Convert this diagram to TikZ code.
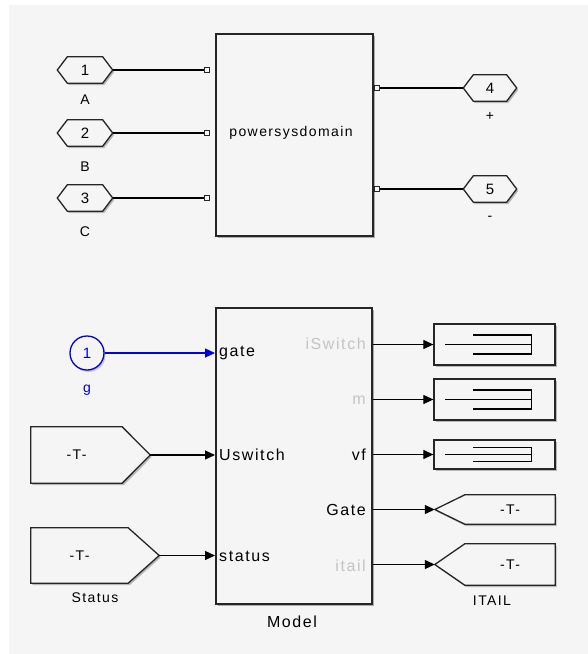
\documentclass[tikz,border=0pt]{standalone}
\usepackage{fontspec}
\setmainfont{Liberation Sans}[LetterSpace=10]
\usetikzlibrary{arrows.meta,shadows}
\definecolor{bgc}{HTML}{F5F5F5}
\definecolor{simblue}{RGB}{0,0,225}
\definecolor{dimtxt}{HTML}{C4C4C4}
\newcommand\hexport[2]{\draw[portline] (#1.west) -- ([xshift=#2]#1.north west) -- ([xshift=-#2]#1.north east) -- (#1.east) -- ([xshift=-#2]#1.south east) -- ([xshift=#2]#1.south west) -- cycle;}
\newcommand\tagright[2]{\draw[portline] (#1.north west) -- (#1.north east) -- ([xshift=#2]#1.east) -- (#1.south east) -- (#1.south west) -- cycle;}
\newcommand\tagleft[2]{\draw[portline] (#1.north east) -- (#1.north west) -- ([xshift=-#2]#1.west) -- (#1.south west) -- (#1.south east) -- cycle;}
\newcommand\scopelines[2]{\draw[wire] ([xshift=12pt]#1.west) -- ([xshift=98pt]#1.west);
 \draw[wire] ([xshift=40pt,yshift=#2]#1.west) -- ([xshift=98pt,yshift=#2]#1.west) -- ([xshift=98pt,yshift=-#2]#1.west) -- ([xshift=40pt,yshift=-#2]#1.west);}
\begin{document}
\begin{tikzpicture}[x=1pt,y=-1pt,
  every node/.style={font=\fontsize{14}{16}\selectfont, inner sep=0pt},
  digit/.style={font=\fontsize{15}{17}\selectfont},
  blk/.style={draw=black!85, line width=1.5pt, fill=bgc, anchor=north west,
     drop shadow={shadow xshift=2pt, shadow yshift=-2.5pt, opacity=.3, fill=black}},
  portline/.style={draw=black!85, line width=1.3pt, fill=bgc,
     drop shadow={shadow xshift=1.5pt, shadow yshift=-2pt, opacity=.25, fill=black}},
  sqport/.style={draw=black!85, line width=0.9pt, fill=bgc, minimum size=5pt, inner sep=0pt},
  wire/.style={draw=black, line width=1.2pt},
  arr/.style={-{Triangle[length=10pt,width=9pt]}},
  bluewire/.style={draw=simblue, line width=1.2pt},
  scope/.style={draw=black!85, line width=1.3pt, fill=bgc, inner sep=0pt,
     drop shadow={shadow xshift=1.5pt, shadow yshift=-2pt, opacity=.25, fill=black}},
  lbl/.style={font=\fontsize{16}{18}\selectfont}
]
\useasboundingbox (0,0) rectangle (588,654);
\fill[white] (0,0) rectangle (588,654);
\fill[bgc] (9,5) rectangle (588,654);

% ---------- top: powersysdomain ----------
\node[blk, minimum width=157pt, minimum height=202pt] (psd) at (215,33) {};
\node (psdtxt) at (291,133) {powersysdomain};

\node[minimum width=55pt, minimum height=26pt] (h1) at (85,70) {};
\node[minimum width=55pt, minimum height=26pt] (h2) at (85,133) {};
\node[minimum width=55pt, minimum height=26pt] (h3) at (85,198) {};
\node[minimum width=53pt, minimum height=26pt] (h4) at (490,88) {};
\node[minimum width=53pt, minimum height=26pt] (h5) at (490,189) {};
\hexport{h1}{10pt}\hexport{h2}{10pt}\hexport{h3}{10pt}
\hexport{h4}{10pt}\hexport{h5}{10pt}
\node[digit] at (h1) {1};\node[digit] at (h2) {2};\node[digit] at (h3) {3};
\node[digit] at (h4) {4};\node[digit] at (h5) {5};
\node (lA) at (85,100) {A};
\node (lB) at (85,167) {B};
\node (lC) at (85,232) {C};
\node (lp) at (490,116) {+};
\node (lm) at (490,218) {-};

\node[sqport] (s1) at (207,70) {};
\node[sqport] (s2) at (207,133) {};
\node[sqport] (s3) at (207,198) {};
\node[sqport] (s4) at (377,88) {};
\node[sqport] (s5) at (377,189) {};
\draw[wire] (h1.east) -- (s1.west);
\draw[wire] (h2.east) -- (s2.west);
\draw[wire] (h3.east) -- (s3.west);
\draw[wire] (s4.east) -- (h4.west);
\draw[wire] (s5.east) -- (h5.west);

% ---------- bottom: Model ----------
\node[blk, minimum width=156pt, minimum height=296pt] (model) at (215,307) {};
\node[lbl] (mlbl) at (292,622) {Model};

\node[lbl, anchor=west] (igate) at (219,353) {gate};
\node[lbl, anchor=west] (iusw) at (219,455) {Uswitch};
\node[lbl, anchor=west] (istat) at (219,556) {status};
\node[lbl, anchor=east, text=dimtxt] (oisw) at (366,344) {iSwitch};
\node[lbl, anchor=east, text=dimtxt] (om) at (366,400) {m};
\node[lbl, anchor=east] (ovf) at (366,455) {vf};
\node[lbl, anchor=east] (ogate) at (366,510) {Gate};
\node[lbl, anchor=east, text=dimtxt] (oitail) at (366,566) {itail};

% input g
\node[circle, draw=simblue, line width=1.3pt, fill=bgc, minimum size=34pt, text=simblue, digit,
   drop shadow={shadow xshift=1.5pt, shadow yshift=-2pt, opacity=.2, fill=black}] (g1) at (87,353) {1};
\node[text=simblue] (glbl) at (87,390) {g};
\draw[bluewire, -{Triangle[length=10pt,width=9pt]}, simblue] (g1.east) -- (g1 -| model.west);

% from tags
\node[minimum width=91pt, minimum height=56pt] (fU) at (76.5,455) {};
\tagright{fU}{28pt}
\node at (fU) {-T-};
\coordinate (fUtip) at ([xshift=28pt]fU.east);
\node[minimum width=97pt, minimum height=55pt] (fS) at (79.5,555.5) {};
\tagright{fS}{31pt}
\node at (fS) {-T-};
\coordinate (fStip) at ([xshift=31pt]fS.east);
\node (slbl) at (95,598) {Status};
\draw[wire, arr] (fUtip) -- (fUtip -| model.west);
\draw[wire, arr] (fStip) -- (fStip -| model.west);

% scopes
\node[scope, minimum width=121pt, minimum height=41pt] (sc1) at (494.5,344.5) {};
\node[scope, minimum width=121pt, minimum height=41pt] (sc2) at (494.5,399.5) {};
\node[scope, minimum width=121pt, minimum height=29pt] (sc3) at (494.5,454.5) {};
\scopelines{sc1}{9.5pt}\scopelines{sc2}{9.5pt}\scopelines{sc3}{7pt}
\draw[wire, arr] (sc1 -| model.east) -- (sc1.west);
\draw[wire, arr] (sc2 -| model.east) -- (sc2.west);
\draw[wire, arr] (sc3 -| model.east) -- (sc3.west);

% goto tags
\node[minimum width=90pt, minimum height=29pt] (tG) at (510,509.5) {};
\tagleft{tG}{30pt}
\node at (tG) {-T-};
\coordinate (tGtip) at ([xshift=-30pt]tG.west);
\node[minimum width=90pt, minimum height=41pt] (tI) at (510,564.5) {};
\tagleft{tI}{30pt}
\node at (tI) {-T-};
\coordinate (tItip) at ([xshift=-30pt]tI.west);
\node (ilbl) at (492,601) {ITAIL};
\draw[wire, arr] (tGtip -| model.east) -- (tGtip);
\draw[wire, arr] (tItip -| model.east) -- (tItip);
\end{tikzpicture}
\end{document}
